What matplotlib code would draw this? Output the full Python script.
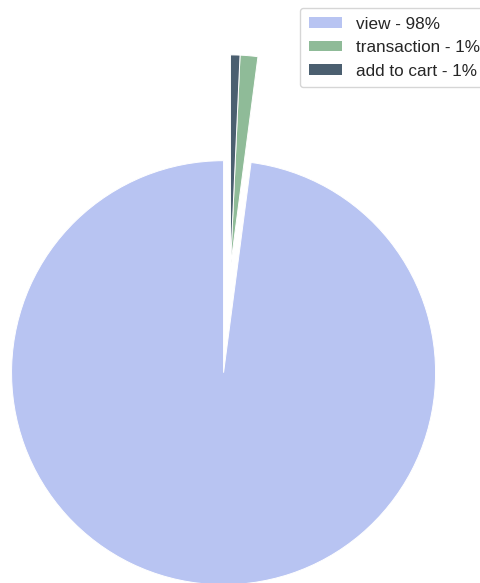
import matplotlib
matplotlib.use("Agg")
import matplotlib.pyplot as plt

# share of events
labels = ["view", "transaction", "add to cart"]
shares = [97.93, 1.35, 0.72]
colors = ["#b8c4f2", "#8fbb98", "#4b5f70"]
explode = [0.5, 0, 0]

plt.rcParams["font.family"] = ["Liberation Sans", "DejaVu Sans"]

fig = plt.figure(figsize=(4.8, 5.83), dpi=100)
ax = fig.add_axes([0, 0, 1, 1])

wedges, _ = ax.pie(shares, colors=colors, explode=explode, startangle=90,
                   wedgeprops={"edgecolor": "white", "linewidth": 0.7})
ax.set_aspect("equal")
ax.set_xlim(-1.087, 1.177)
ax.set_ylim(-1.491, 1.259)
ax.axis("off")

legend_labels = ["%s - %d%%" % (l, round(s)) for l, s in zip(labels, shares)]
leg = fig.legend(wedges, legend_labels, loc="upper left",
                 bbox_to_anchor=(300 / 480, 1 - 8 / 583), borderaxespad=0,
                 fontsize=12.3, frameon=True, handlelength=1.95,
                 handleheight=0.6, labelspacing=0.5, borderpad=0.5,
                 handletextpad=0.8, fancybox=True, labelcolor="#262626")
leg.get_frame().set_edgecolor("#cccccc")
for h in leg.legend_handles:
    h.set_edgecolor("none")

fig.savefig("out.png", dpi=100)
